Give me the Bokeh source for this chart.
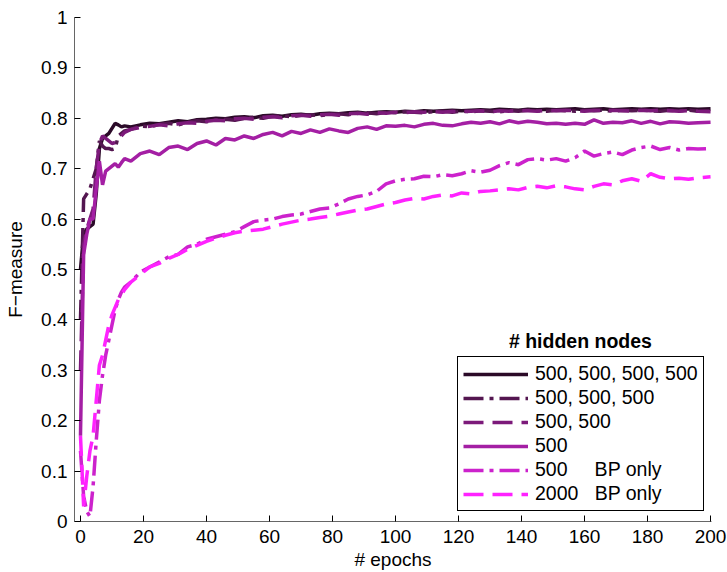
from bokeh.plotting import figure
from bokeh.models import Legend, LegendItem, Label, FixedTicker, Range1d
from bokeh.embed import file_html
from bokeh.resources import INLINE

epochs = [0, 1, 2, 3, 4, 5, 6, 7, 8, 9, 10, 11, 12, 13, 14,
          16, 19, 22, 25, 28, 31, 34, 37, 40, 43, 46, 49, 52, 55, 58,
          61, 64, 67, 70, 73, 76, 79, 82, 85, 88, 91, 94, 97, 100, 103,
          106, 109, 112, 115, 118, 121, 124, 127, 130, 133, 136, 139, 142, 145, 148,
          151, 154, 157, 160, 163, 166, 169, 172, 175, 178, 181, 184, 187, 190, 193,
          196, 200]

f_4x500 = [0.50, 0.57, 0.58, 0.585, 0.59, 0.65, 0.74, 0.76, 0.765, 0.77, 0.78, 0.79, 0.787, 0.783, 0.785,
           0.783, 0.787, 0.79, 0.789, 0.792, 0.795, 0.793, 0.797, 0.798, 0.80, 0.799, 0.802, 0.803, 0.801, 0.805,
           0.806, 0.804, 0.807, 0.808, 0.806, 0.809, 0.81, 0.809, 0.811, 0.812, 0.81, 0.812, 0.813, 0.812, 0.814,
           0.813, 0.815, 0.814, 0.815, 0.816, 0.815, 0.816, 0.817, 0.816, 0.818, 0.817, 0.816, 0.818, 0.817, 0.818,
           0.817, 0.818, 0.819, 0.817, 0.818, 0.819, 0.817, 0.818, 0.819, 0.818, 0.819, 0.818, 0.819, 0.818, 0.819,
           0.818, 0.819]

f_3x500 = [0.40, 0.64, 0.65, 0.66, 0.68, 0.70, 0.755, 0.745, 0.74, 0.74, 0.738, 0.74, 0.765, 0.77, 0.775,
           0.778, 0.785, 0.783, 0.788, 0.79, 0.787, 0.792, 0.795, 0.793, 0.797, 0.798, 0.796, 0.80, 0.802, 0.80,
           0.804, 0.805, 0.803, 0.806, 0.807, 0.805, 0.808, 0.809, 0.807, 0.81, 0.811, 0.809, 0.812, 0.811, 0.813,
           0.812, 0.811, 0.813, 0.814, 0.812, 0.814, 0.813, 0.815, 0.814, 0.813, 0.815, 0.814, 0.816, 0.815, 0.814,
           0.816, 0.815, 0.814, 0.816, 0.815, 0.816, 0.814, 0.816, 0.815, 0.816, 0.815, 0.814, 0.816, 0.815, 0.816,
           0.814, 0.815]

f_2x500 = [0.30, 0.55, 0.58, 0.60, 0.62, 0.70, 0.75, 0.765, 0.76, 0.755, 0.75, 0.752, 0.758, 0.765, 0.772,
           0.778, 0.782, 0.784, 0.787, 0.785, 0.789, 0.791, 0.79, 0.794, 0.796, 0.795, 0.799, 0.80, 0.798, 0.802,
           0.803, 0.801, 0.805, 0.806, 0.804, 0.807, 0.808, 0.806, 0.809, 0.81, 0.808, 0.811, 0.81, 0.812, 0.811,
           0.813, 0.812, 0.813, 0.812, 0.814, 0.813, 0.814, 0.815, 0.813, 0.815, 0.814, 0.816, 0.815, 0.814, 0.816,
           0.815, 0.816, 0.815, 0.814, 0.816, 0.815, 0.816, 0.815, 0.814, 0.816, 0.815, 0.816, 0.815, 0.814, 0.815,
           0.814, 0.813]

f_1x500 = [0.17, 0.53, 0.57, 0.60, 0.60, 0.66, 0.715, 0.668, 0.695, 0.70, 0.705, 0.71, 0.703, 0.712, 0.72,
           0.715, 0.73, 0.735, 0.728, 0.742, 0.745, 0.738, 0.75, 0.755, 0.747, 0.76, 0.757, 0.765, 0.76, 0.768,
           0.772, 0.765, 0.774, 0.77, 0.777, 0.772, 0.779, 0.775, 0.772, 0.78, 0.783, 0.778, 0.785, 0.784, 0.786,
           0.783, 0.788, 0.79, 0.786, 0.785, 0.789, 0.792, 0.79, 0.793, 0.789, 0.795, 0.791, 0.794, 0.792, 0.789,
           0.79, 0.788, 0.79, 0.788, 0.797, 0.79, 0.792, 0.791, 0.795, 0.79, 0.794, 0.789, 0.793, 0.792, 0.79,
           0.791, 0.792]

f_500_bp = [0.14, 0.05, 0.02, 0.01, 0.07, 0.16, 0.24, 0.29, 0.33, 0.36, 0.39, 0.42, 0.44, 0.455, 0.465,
            0.475, 0.495, 0.505, 0.515, 0.525, 0.53, 0.545, 0.55, 0.56, 0.565, 0.57, 0.575, 0.585, 0.595, 0.598,
            0.60, 0.605, 0.608, 0.61, 0.615, 0.62, 0.622, 0.63, 0.64, 0.645, 0.648, 0.655, 0.67, 0.676, 0.679,
            0.68, 0.685, 0.684, 0.688, 0.686, 0.69, 0.696, 0.693, 0.697, 0.706, 0.712, 0.708, 0.718, 0.72, 0.717,
            0.72, 0.715, 0.722, 0.735, 0.725, 0.73, 0.733, 0.728, 0.737, 0.742, 0.745, 0.738, 0.742, 0.737, 0.74,
            0.739, 0.74]

f_2000_bp = [0.17, 0.03, 0.09, 0.14, 0.17, 0.24, 0.31, 0.33, 0.36, 0.39, 0.41, 0.425, 0.44, 0.45, 0.46,
             0.475, 0.49, 0.505, 0.512, 0.522, 0.53, 0.54, 0.548, 0.556, 0.562, 0.568, 0.573, 0.576, 0.578, 0.58,
             0.585, 0.59, 0.594, 0.598, 0.60, 0.603, 0.606, 0.61, 0.614, 0.618, 0.62, 0.625, 0.63, 0.633, 0.638,
             0.641, 0.64, 0.645, 0.648, 0.646, 0.652, 0.65, 0.655, 0.656, 0.658, 0.66, 0.658, 0.663, 0.665, 0.662,
             0.666, 0.664, 0.66, 0.658, 0.665, 0.67, 0.668, 0.676, 0.68, 0.675, 0.69, 0.683, 0.68, 0.681, 0.679,
             0.682, 0.684]

labels = ["500, 500, 500, 500", "500, 500, 500", "500, 500", "500",
          "500\u00a0\u00a0\u00a0\u00a0\u00a0BP only", "2000\u00a0\u00a0\u00a0BP only"]
colors = ["#2b0a28", "#541650", "#7c1a7a", "#a41fa4", "#cc22cc", "#ff22ff"]
dashes = ["solid", "20 6 4 6", "20 9", "solid", "20 6 4 6", "20 9"]
series = [f_4x500, f_3x500, f_2x500, f_1x500, f_500_bp, f_2000_bp]

x_ticks = [0, 20, 40, 60, 80, 100, 120, 140, 160, 180, 200]
y_ticks = [0, 0.1, 0.2, 0.3, 0.4, 0.5, 0.6, 0.7, 0.8, 0.9, 1]

FONT = "Liberation Sans"

p = figure(width=727, height=572, output_backend="svg", toolbar_location=None,
           x_range=Range1d(-1.9, 200.3), y_range=Range1d(0, 1),
           min_border_left=74, min_border_right=16, min_border_top=17, min_border_bottom=51)
p.outline_line_color = None
p.grid.visible = False
p.background_fill_color = "white"
p.border_fill_color = "white"

for ax in (p.xaxis[0], p.yaxis[0]):
    ax.axis_line_color = "#666666"
    ax.axis_line_width = 1
    ax.major_tick_in = 6
    ax.major_tick_out = 0
    ax.major_tick_line_color = "black"
    ax.minor_tick_line_color = None
    ax.major_label_text_font = FONT
    ax.major_label_text_font_size = "19px"
    ax.major_label_text_color = "black"
    ax.axis_label_text_font = FONT
    ax.axis_label_text_font_size = "19px"
    ax.axis_label_text_font_style = "normal"
    ax.axis_label_text_color = "black"

p.xaxis.ticker = FixedTicker(ticks=x_ticks)
p.yaxis.ticker = FixedTicker(ticks=y_ticks)
p.yaxis.major_label_overrides = {0: "0", 1: "1"}
p.xaxis.major_label_standoff = 8
p.yaxis.major_label_standoff = 7

p.yaxis.axis_label = "F\u2212measure"
p.yaxis.axis_label_standoff = 12
p.xaxis.axis_label = "# epochs"
p.xaxis.axis_label_standoff = 3

items = []
for lab, col, dsh, ys in zip(labels, colors, dashes, series):
    assert len(ys) == len(epochs)
    r = p.line(epochs, ys, line_color=col, line_width=3.5, line_dash=dsh)
    items.append(LegendItem(label=lab, renderers=[r]))

legend = Legend(items=items, location=(383, 10),
                border_line_color="black", border_line_width=1, border_line_alpha=1,
                background_fill_color="white", background_fill_alpha=1,
                glyph_width=65, glyph_height=20, label_height=20, label_standoff=7,
                spacing=1, padding=5, margin=0,
                label_text_font=FONT, label_text_font_size="19.5px",
                label_text_color="black")
p.add_layout(legend, "center")

p.add_layout(Label(x=158.7, y=0.359, text="# hidden nodes", text_font=FONT,
                   text_font_size="19.5px", text_font_style="bold", text_color="black",
                   text_align="center", text_baseline="middle"))

open("out.html", "w").write(file_html(p, INLINE))
